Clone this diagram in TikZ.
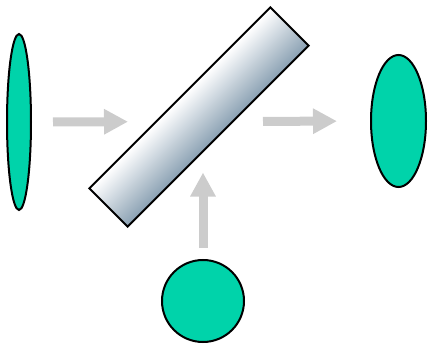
\documentclass[tikz,border=0pt]{standalone}
\usetikzlibrary{positioning,arrows.meta,shapes.geometric}
\definecolor{lenscol}{RGB}{0,211,170}
\definecolor{beamcol}{RGB}{204,204,204}
\definecolor{mirrorcol}{RGB}{140,162,180}
\pgfdeclareverticalshading{mirrorshade}{100bp}{color(0bp)=(mirrorcol); color(44bp)=(mirrorcol); color(56bp)=(white); color(100bp)=(white)}
\tikzset{
  lens/.style={ellipse,draw=black,line width=2pt,fill=lenscol,inner sep=0pt},
  beam/.style={draw=beamcol,line width=9pt,-{Triangle[length=24pt,width=24pt]}},
}

\begin{document}
\begin{tikzpicture}[x=1pt,y=-1pt]
  \useasboundingbox (0,0) rectangle (429,345);
  % Spiegel
  \node[draw=black,line width=2pt,rectangle,minimum width=256pt,minimum height=54pt,
        rotate=45,shading=mirrorshade,shading angle=45,inner sep=0pt] (mirror) at (199,117) {};
  % Linsen
  \node[lens,minimum width=24pt,minimum height=176pt] (lensL) at (19,122) {};
  \node[lens,minimum width=55pt,minimum height=132pt] (lensR) at (398.5,121) {};
  \node[lens,circle,minimum size=82pt] (lensB) at (203,301) {};
  \coordinate (hit) at (203,121.5);
  % Strahlen
  \draw[beam,shorten <=21pt,shorten >=75pt] (lensL) -- (hit);
  \draw[beam,shorten <=60pt,shorten >=33pt] (hit) -- (lensR);
  \draw[beam,shorten <=11pt,shorten >=51pt] (lensB) -- (hit);
\end{tikzpicture}
\end{document}
